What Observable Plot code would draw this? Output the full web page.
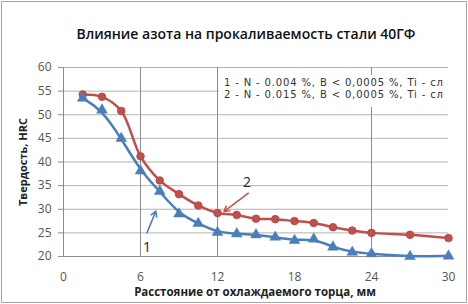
<!DOCTYPE html>
<html>
<head>
<meta charset="utf-8">
<script src="https://cdn.jsdelivr.net/npm/d3@7"></script>
<script src="https://cdn.jsdelivr.net/npm/@observablehq/plot@0.6"></script>
<style>
  html, body { margin: 0; padding: 0; background: #fff; }
  #wrap { position: relative; width: 468px; height: 304px; overflow: hidden; font-family: "Open Sans", sans-serif; }
  #frame { position: absolute; left: 1px; top: 1px; width: 464px; height: 300px; border: 1px solid #a6a6a6; pointer-events: none; z-index: 5; }
  #title { position: absolute; left: 24px; top: 0; width: 444px; height: 50px; text-align: center; font-size: 14px; font-weight: 600; color: #111; line-height: 68px; white-space: nowrap; }
  #chart { position: absolute; left: 0; top: 50px; }
  #ylab { position: absolute; left: 22px; top: 162px; transform: translate(-50%, -50%) rotate(-90deg); font-size: 11px; font-weight: 700; color: #222; white-space: nowrap; }
  #xlab { position: absolute; left: 0; width: 510px; top: 284px; text-align: center; font-size: 11.5px; font-weight: 700; color: #222; white-space: nowrap; }
  #legend { position: absolute; left: 219px; top: 75px; width: 229px; height: 32px; background: #fff; font-family: "DejaVu Sans", sans-serif; font-size: 10px; letter-spacing: 0.85px; color: #333; line-height: 12px; padding-top: 2px; padding-left: 5px; box-sizing: border-box; white-space: nowrap; overflow: hidden; }
  #legend div { height: 12px; }
</style>
</head>
<body>
<div id="wrap">
  <div id="title">Влияние азота на прокаливаемость стали 40ГФ</div>
  <div id="chart"></div>
  <div id="ylab">Твердость, HRC</div>
  <div id="xlab">Расстояние от охлаждаемого торца, мм</div>
  <div id="legend"></div>
  <div id="frame"></div>
</div>
<script>
// Data
const distance = [1.5, 3, 4.5, 6, 7.5, 9, 10.5, 12, 13.5, 15, 16.5, 18, 19.5, 21, 22.5, 24, 27, 30];
const hardness1 = [53.5, 51.0, 45.0, 38.1, 33.8, 29.0, 27.0, 25.1, 24.8, 24.6, 24.1, 23.4, 23.7, 22.0, 20.9, 20.6, 20.0, 20.1]; // 1 - N 0.004 %
const hardness2 = [54.3, 53.8, 50.8, 41.2, 36.1, 33.2, 30.8, 29.2, 28.8, 28.0, 27.9, 27.5, 27.1, 26.2, 25.5, 25.0, 24.6, 23.9]; // 2 - N 0.015 %
const legendLines = ["1 - N - 0.004 %, B < 0,0005 %, Ti - сл", "2 - N - 0.015 %, B < 0,0005 %, Ti - сл"];
const xTicks = [0, 6, 12, 18, 24, 30];
const yTicks = [20, 25, 30, 35, 40, 45, 50, 55, 60];
const xGridLines = [6, 12, 24];
// annotation labels and arrows (data coordinates)
const labelText = ["1", "2"];
const labelX = [6.5, 14.3];
const labelY = [22.0, 35.6];
const arrowX1 = [6.5, 14.4];
const arrowY1 = [25.0, 33.4];
const arrowX2 = [7.2, 12.5];
const arrowY2 = [29.6, 29.5];

const red = "#c0504d";
const blue = "#4a7ebb";

const s1 = distance.map((d, i) => ({x: d, y: hardness1[i]}));
const s2 = distance.map((d, i) => ({x: d, y: hardness2[i]}));
const labels = labelText.map((t, i) => ({t, x: labelX[i], y: labelY[i]}));
const arrows = labelText.map((t, i) => ({x1: arrowX1[i], y1: arrowY1[i], x2: arrowX2[i], y2: arrowY2[i], c: i === 0 ? blue : red}));

const chart = Plot.plot({
  width: 468,
  height: 254,
  marginTop: 17,
  marginLeft: 63,
  marginRight: 20,
  marginBottom: 48,
  style: {fontFamily: "'Open Sans', sans-serif", background: "transparent", overflow: "visible"},
  x: {domain: [0, 30]},
  y: {domain: [20, 60]},
  marks: [
    Plot.ruleY(yTicks, {stroke: "#b3b3b3", strokeWidth: 1}),
    Plot.ruleX(xGridLines, {stroke: "#8c8c8c", strokeWidth: 1}),
    Plot.ruleX([0], {stroke: "#8c8c8c", strokeWidth: 1}),
    Plot.ruleY([20], {stroke: "#8c8c8c", strokeWidth: 1}),
    Plot.axisY({ticks: yTicks, tickSize: 5, tickPadding: 7, fontSize: 12, color: "#555", label: null, stroke: "#8c8c8c"}),
    Plot.axisX({ticks: xTicks, tickSize: 0, tickPadding: 16, fontSize: 12, color: "#555", label: null}),
    Plot.line(s2, {x: "x", y: "y", stroke: red, strokeWidth: 2.5, curve: "catmull-rom"}),
    Plot.line(s1, {x: "x", y: "y", stroke: blue, strokeWidth: 2.5, curve: "basis"}),
    Plot.dot(s2, {x: "x", y: "y", r: 3.8, fill: red, stroke: "#b5403d", strokeWidth: 0.8}),
    Plot.dot(s1, {x: "x", y: "y", r: 4, symbol: "triangle", fill: blue, stroke: blue, strokeWidth: 0.5}),
    Plot.arrow(arrows, {x1: "x1", y1: "y1", x2: "x2", y2: "y2", stroke: "c", strokeWidth: 1.5, headLength: 6}),
    Plot.text(labels, {x: "x", y: "y", text: "t", fontSize: 14, fill: "#222"})
  ]
});
document.getElementById("chart").appendChild(chart);
document.getElementById("legend").innerHTML = legendLines.map(l => `<div>${l.replace(/</g, "&lt;")}</div>`).join("");
</script>
</body>
</html>
